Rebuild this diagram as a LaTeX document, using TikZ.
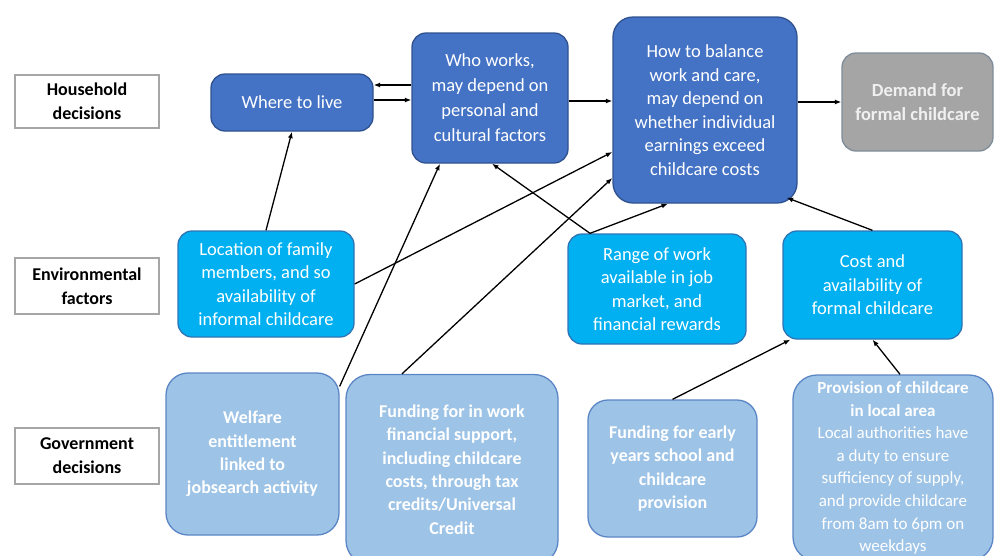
\documentclass[tikz,border=0pt]{standalone}
\usepackage{fontspec}
\setmainfont{Carlito}
\usetikzlibrary{arrows.meta}
\definecolor{hhfill}{HTML}{4472C4}
\definecolor{hhline}{HTML}{2F528F}
\definecolor{envfill}{HTML}{00B0F0}
\definecolor{envline}{HTML}{2E75B6}
\definecolor{govfill}{HTML}{9DC3E6}
\definecolor{govline}{HTML}{5B86C5}
\definecolor{demfill}{HTML}{A5A5A5}
\definecolor{demline}{HTML}{7F8C99}
\definecolor{sideline}{HTML}{A6A6A6}

\begin{document}
\begin{tikzpicture} [x=1pt, y=-1pt,
	side/.style={draw=sideline, fill=white, line width=1.2pt, minimum width=144pt, inner sep=0pt, align=center, font=\bfseries\fontsize{18}{24}\selectfont},
	box/.style={rounded corners=14pt, line width=1.3pt, inner sep=0pt, align=center, text=white, font=\fontsize{18.5}{23.5}\selectfont},
	hhbox/.style={box, fill=hhfill, draw=hhline},
	envbox/.style={box, fill=envfill, draw=envline},
	govbox/.style={box, fill=govfill, draw=govline, font=\bfseries\fontsize{18}{23.4}\selectfont},
	link/.style={-{Latex[length=6.5pt,width=5pt]}, line width=1.3pt}]
	\useasboundingbox (0,0) rectangle (995,555);

	\node[side, minimum height=53pt] (hh) at (87,101.5) {Household\\decisions};
	\node[side, minimum height=56pt, below of=hh, node distance=184.5pt] (env) {Environmental\\factors};
	\node[side, minimum height=56pt, below of=env, node distance=170pt] (gov) {Government\\decisions};

	\node[hhbox, minimum width=162pt, minimum height=57pt] (live) at (292,102.5) {Where to live};
	\node[hhbox, minimum width=156pt, minimum height=130pt, font=\fontsize{18.5}{25}\selectfont] (who) at (490,98) {Who works,\\may depend on\\personal and\\cultural factors};
	\node[hhbox, minimum width=184pt, minimum height=186pt, rounded corners=20pt] (bal) at (705,110) {How to balance\\work and care,\\may depend on\\whether individual\\earnings exceed\\childcare costs};
	\node[box, fill=demfill, draw=demline, text=white!94!black, font=\bfseries\fontsize{18.5}{24}\selectfont, minimum width=151pt, minimum height=98pt] (dem) at (917.5,102) {Demand for\\formal childcare};

	\node[envbox, minimum width=176pt, minimum height=106pt] (loc) at (266,284) {Location of family\\members, and so\\availability of\\informal childcare};
	\node[envbox, minimum width=178pt, minimum height=110pt] (rng) at (657,289) {Range of work\\available in job\\market, and\\financial rewards};
	\node[envbox, minimum width=179pt, minimum height=108pt] (cost) at (872.5,285) {Cost and\\availability of\\formal childcare};

	\node[govbox, minimum width=173pt, minimum height=162pt, rounded corners=22pt] (wel) at (252.5,454) {Welfare\\entitlement\\linked to\\jobsearch activity};
	\node[govbox, minimum width=212pt, minimum height=190pt, rounded corners=24pt] (fin) at (452,469.5) {Funding for in work\\financial support,\\including childcare\\costs, through tax\\credits/Universal\\Credit};
	\node[govbox, minimum width=169pt, minimum height=137pt, rounded corners=20pt] (early) at (672.5,468.5) {Funding for early\\years school and\\childcare\\provision};
	\node[govbox, minimum width=200pt, minimum height=186pt, rounded corners=24pt, font=\fontsize{17}{22.6}\selectfont] (prov) at (893,468) {\textbf{Provision of childcare}\\\textbf{in local area}\\Local authorities have\\a duty to ensure\\sufficiency of supply,\\and provide childcare\\from 8am to 6pm on\\weekdays};

	\draw[link] ([yshift=13pt]who.west) -- ([yshift=13pt]who.west -| live.east);
	\draw[link] ([yshift=-2pt]who.west -| live.east) -- ([yshift=-2pt]who.west);
	\draw[link] ([yshift=-3pt]who.east) -- ([yshift=-3pt]who.east -| bal.west);
	\draw[link] (dem.west -| bal.east) -- (dem.west);

	\draw[link] (loc.north) -- (live.south);
	\draw[link] (loc.east) -- ([yshift=-42pt]bal.west);
	\draw[link] ([yshift=-14pt]wel.north east) -- ([xshift=-50pt]who.south);
	\draw[link] ([xshift=-50pt]fin.north) -- ([yshift=-68pt]bal.west);
	\draw[link] ([xshift=-67pt]rng.north) -- ([xshift=2pt]who.south);
	\draw[link] ([xshift=-67pt]rng.north) -- ([xshift=-37pt]bal.south);
	\draw[link] (cost.north) -- ([shift={(-11pt,6pt)}]bal.south east);

	\draw[link] (early.north) -- ([xshift=8pt]cost.south west);
	\draw[link] ([xshift=7pt]prov.north) -- (cost.south);
\end{tikzpicture}
\end{document}
